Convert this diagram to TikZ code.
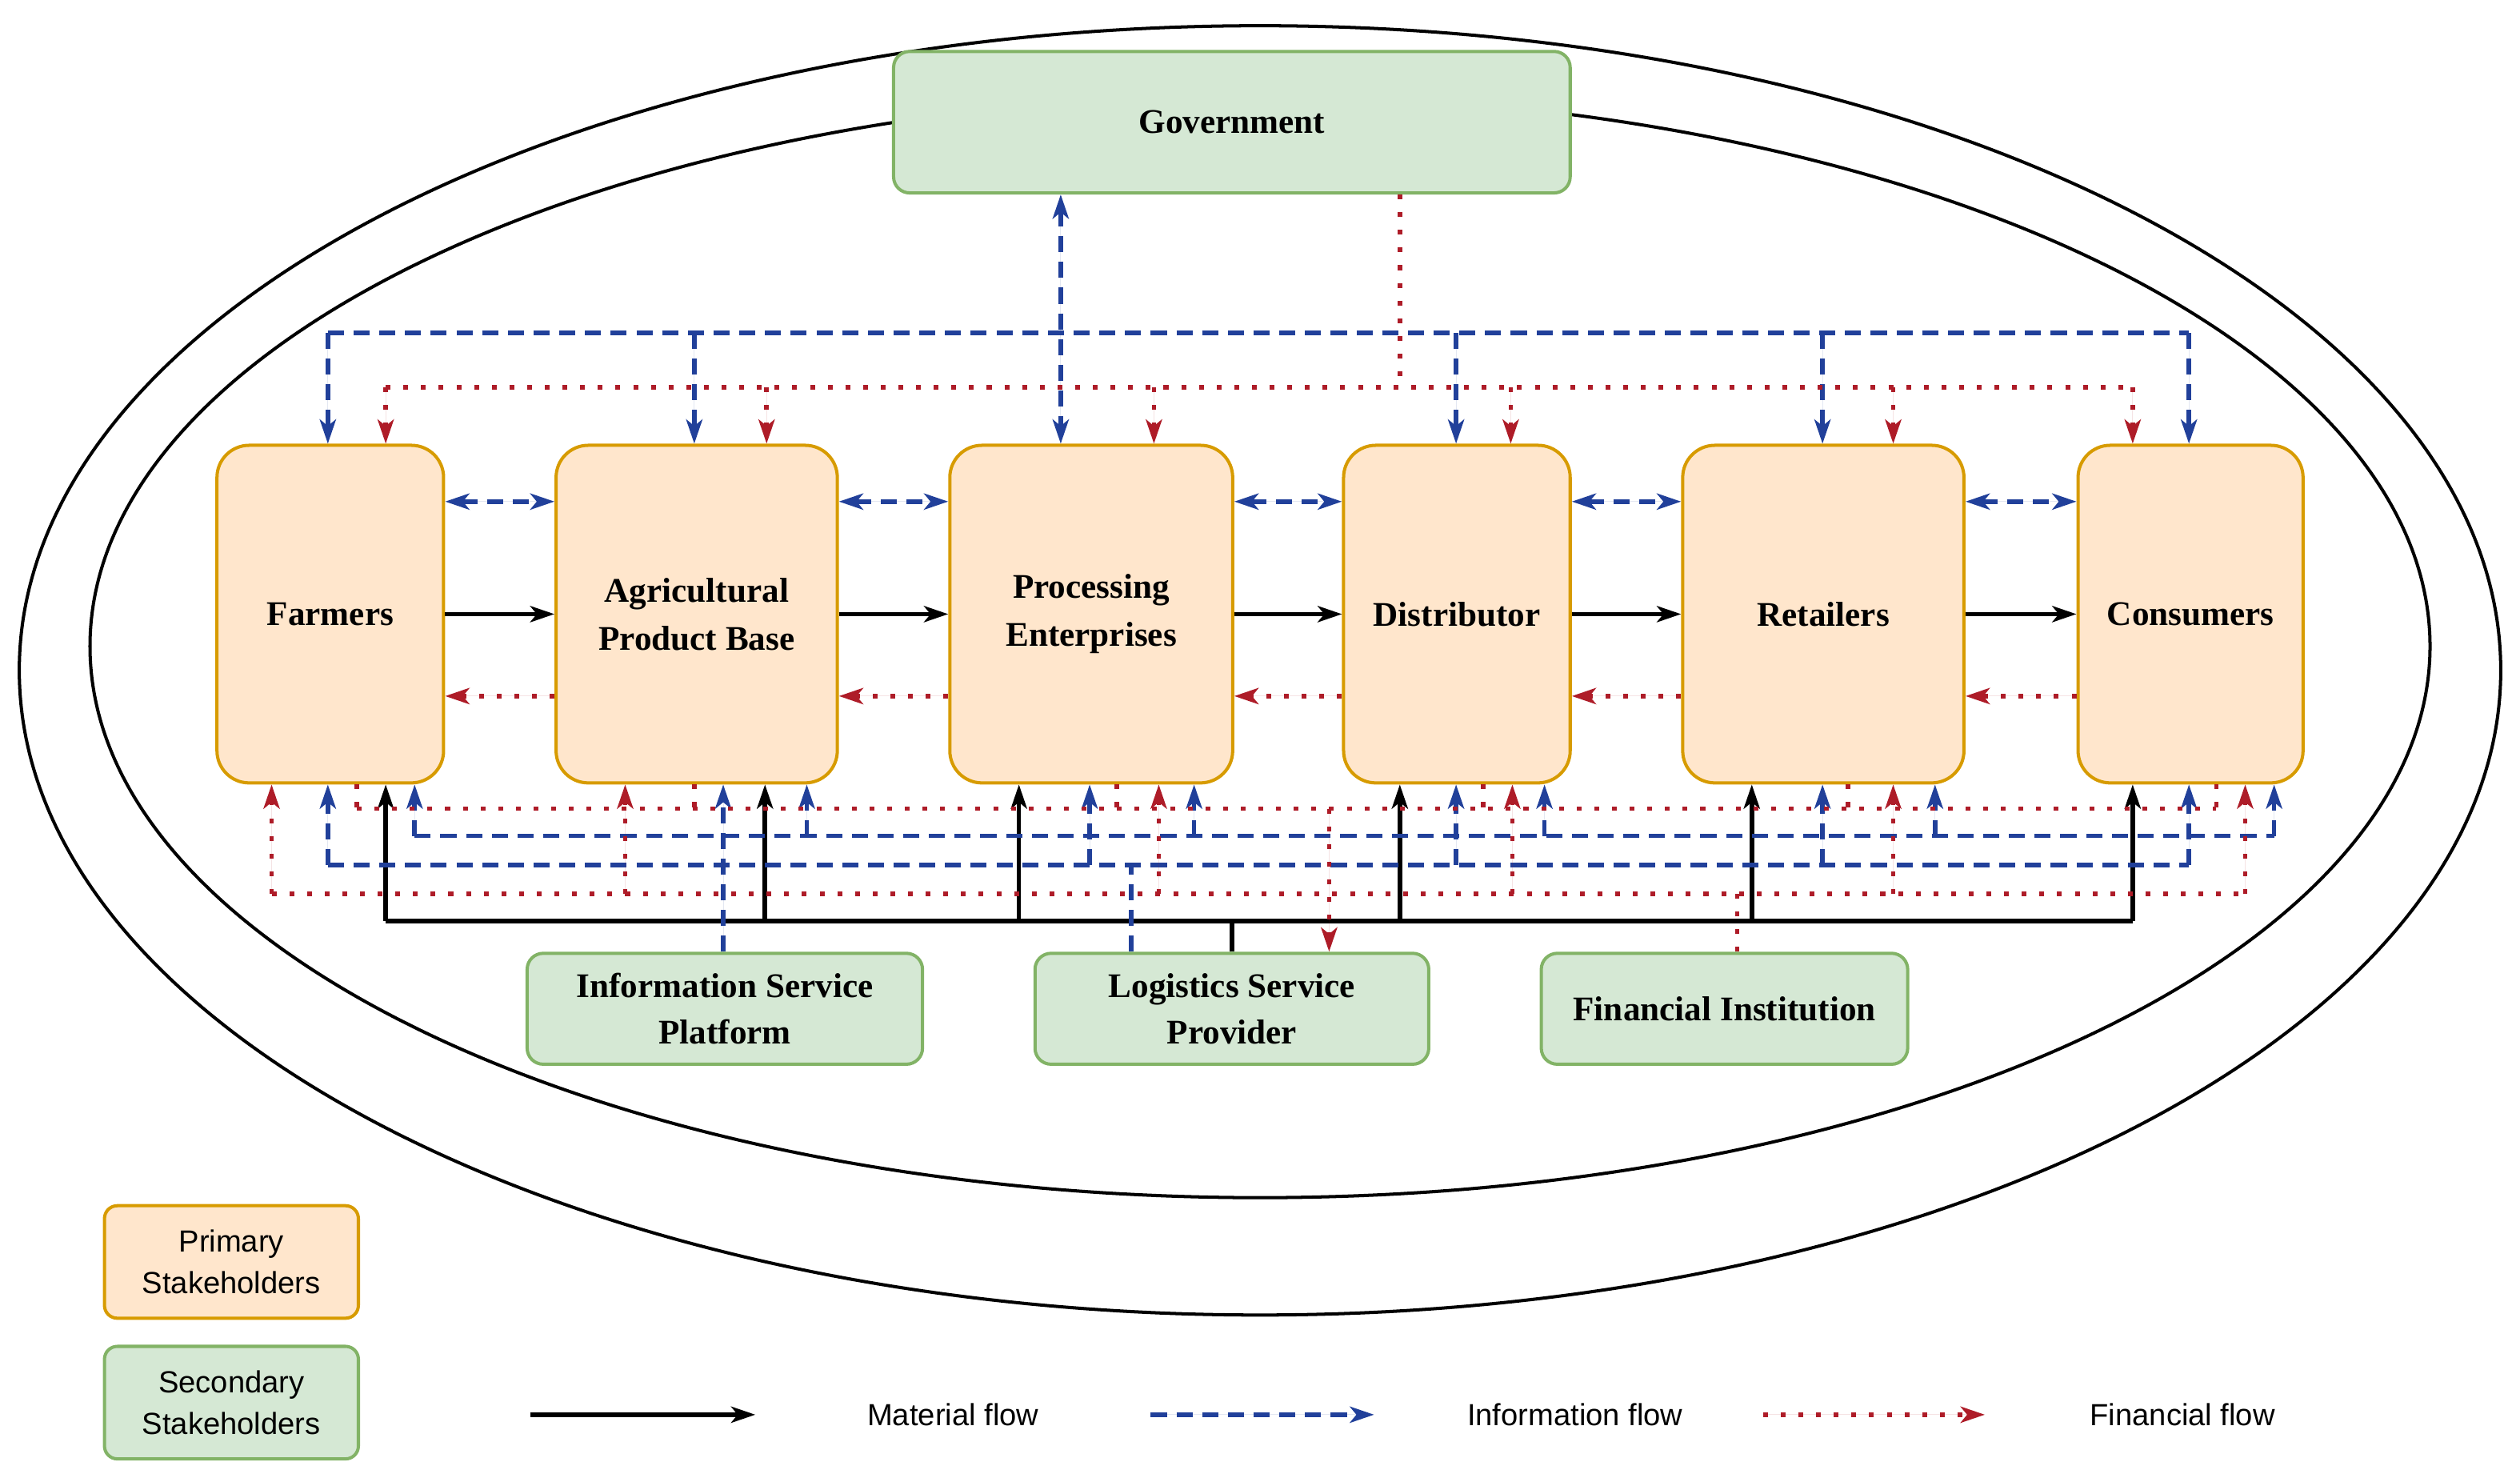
\documentclass[tikz,border=0pt]{standalone}
\usepackage{fontspec}
\setmainfont{Liberation Serif}
\newfontfamily\lsans{Liberation Sans}
\usetikzlibrary{arrows.meta,calc}
\definecolor{pfill}{HTML}{FFE6CC}\definecolor{pdraw}{HTML}{D79B00}
\definecolor{sfill}{HTML}{D5E8D4}\definecolor{sdraw}{HTML}{82B366}
\definecolor{ib}{HTML}{21409A}\definecolor{fr}{HTML}{AE1C28}
\begin{document}
\begin{tikzpicture}[x=1pt,y=-1pt,
 tip/.style={-{Stealth[length=15pt,width=10pt,inset=4pt]}},
 mat/.style={line width=2.8pt,draw=black},
 info/.style={line width=2.8pt,draw=ib,dash pattern=on 10pt off 6pt},
 fin/.style={line width=2.8pt,draw=fr,dash pattern=on 3pt off 8pt},
 ti/.style={-{Stealth[length=15pt,width=10pt,inset=4pt]},fill=ib},
 tf/.style={-{Stealth[length=15pt,width=10pt,inset=4pt]},fill=fr},
 bt/.style={{Stealth[length=15pt,width=10pt,inset=4pt]}-{Stealth[length=15pt,width=10pt,inset=4pt]}},
 prim/.style={draw=pdraw,fill=pfill,line width=2pt,rounded corners=20pt,minimum height=210pt,align=center,font=\fontsize{21.5}{30}\selectfont\bfseries},
 sec/.style={draw=sdraw,fill=sfill,line width=2pt,rounded corners=10pt,align=center,font=\fontsize{21.5}{29}\selectfont\bfseries},
 leg/.style={line width=2pt,rounded corners=8pt,minimum width=158pt,minimum height=70pt,align=center,font=\lsans\fontsize{19}{26}\selectfont},
 lt/.style={font=\lsans\fontsize{19}{22}\selectfont}]
\useasboundingbox (0,0) rectangle (1568,921.4);
\draw[line width=2pt] (784,417) ellipse [x radius=772,y radius=401];
\draw[line width=2pt] (784,402) ellipse [x radius=728,y radius=343];
\node[sec,minimum width=421pt,minimum height=88pt] (G) at (766.5,76) {Government};
\node[prim,minimum width=141pt] (F) at (205.5,382) {Farmers};
\node[prim,minimum width=175pt] (A) at (433.5,382) {Agricultural\\Product Base};
\node[prim,minimum width=176pt] (P) at (679,382) {Processing\\Enterprises};
\node[prim,minimum width=141pt] (D) at (906.5,382) {Distributor};
\node[prim,minimum width=175pt] (R) at (1134.5,382) {Retailers};
\node[prim,minimum width=140pt] (C) at (1363,382) {Consumers};
\node[sec,minimum width=246pt,minimum height=69pt] (I) at (451,627.5) {Information Service\\Platform};
\node[sec,minimum width=245pt,minimum height=69pt] (L) at (766.5,627.5) {Logistics Service\\Provider};
\node[sec,minimum width=228pt,minimum height=69pt] (Fi) at (1073,627.5) {Financial Institution};
% horizontal flows
\foreach \a/\b in {F/A,A/P,P/D,D/R,R/C}{
 \draw[mat,tip] (\a) -- (\b);
 \draw[info,bt,fill=ib] ([yshift=70pt]\a.east) -- ([yshift=70pt]\b.west);
 \draw[fin,tf] ([yshift=-51pt]\b.west) -- ([yshift=-51pt]\a.east);
}
% top levels
\coordinate (tb) at (0,207); \coordinate (tr) at (0,241);
\foreach \n/\s in {F/-1.5,A/-1.5,D/-0.5,R/-0.5,C/-1}{
 \coordinate (bt\n) at ([xshift=\s pt]\n.north);
 \draw[info,ti] (bt\n|-tb) -- (bt\n);}
\draw[info] (btF|-tb) -- (btC|-tb);
\coordinate (btP) at ([xshift=-19pt]P.north);
\draw[info,bt,fill=ib] (G.south-|btP) -- (btP);
\foreach \n/\s in {F/34.5,A/43.5,P/39,D/33.5,R/43.5,C/-36}{
 \coordinate (rt\n) at ([xshift=\s pt]\n.north);
 \draw[fin,tf] (rt\n|-tr) -- (rt\n);}
\draw[fin] (rtF|-tr) -- (rtC|-tr);
\coordinate (gR) at ([xshift=104.5pt]G.south);
\draw[fin] (gR) -- (gR|-tr);
% bottom levels
\coordinate (ru) at (0,503); \coordinate (bu) at (0,520); \coordinate (bl) at (0,538); \coordinate (rl) at (0,556); \coordinate (bus) at (0,573);
\foreach \n/\s in {F/34.5,A/42.5,P/-45,D/-35.5,R/-44.5,C/-36}{
 \coordinate (m\n) at ([xshift=\s pt]\n.south);
 \draw[mat,tip] (m\n|-bus) -- (m\n);}
\draw[mat] (mF|-bus) -- (mC|-bus);
\draw[mat] (L.north) -- (L.north|-bus);
\foreach \n/\s in {F/52.5,A/68.5,P/64,D/54.5,R/69.5,C/52}{
 \coordinate (u\n) at ([xshift=\s pt]\n.south);
 \draw[info,ti] (u\n|-bu) -- (u\n);}
\draw[info] (uF|-bu) -- (uC|-bu);
\foreach \n/\s in {F/-1.5,P/-1,D/-0.5,R/-0.5,C/-1}{
 \coordinate (l\n) at ([xshift=\s pt]\n.south);
 \draw[info,ti] (l\n|-bl) -- (l\n);}
\draw[info] (lF|-bl) -- (lC|-bl);
\coordinate (iA) at ([xshift=16.5pt]A.south);
\draw[info,ti] (I.north-|iA) -- (iA);
\coordinate (lL) at ([xshift=-62.5pt]L.north);
\draw[info] (lL) -- (lL|-bl);
\foreach \n/\s in {F/16.5,A/-1.5,P/16,D/16.5,R/15.5,C/16}{
 \coordinate (s\n) at ([xshift=\s pt]\n.south);
 \draw[fin] (s\n) -- (s\n|-ru);}
\draw[fin] (sF|-ru) -- (sC|-ru);
\coordinate (rL) at ([xshift=60.5pt]L.north);
\draw[fin,tf] (rL|-ru) -- (rL);
\foreach \n/\s in {F/-36.5,A/-44.5,P/42,D/34.5,R/43.5,C/34}{
 \coordinate (r\n) at ([xshift=\s pt]\n.south);
 \draw[fin,tf] (r\n|-rl) -- (r\n);}
\draw[fin] (rF|-rl) -- (rC|-rl);
\coordinate (fF) at ([xshift=8pt]Fi.north);
\draw[fin] (fF) -- (fF|-rl);
% legend
\node[leg,draw=pdraw,fill=pfill] (lp) at (144,785) {Primary\\Stakeholders};
\node[leg,draw=sdraw,fill=sfill] (ls) at (144,872.5) {Secondary\\Stakeholders};
\coordinate (a1) at (330,880); \coordinate (a2) at (470,880);
\coordinate (b1) at (716,880); \coordinate (b2) at (855,880);
\coordinate (c1) at (1097,880); \coordinate (c2) at (1235,880);
\draw[mat,tip] (a1) -- (a2);
\draw[info,ti] (b1) -- (b2);
\draw[fin,tf] (c1) -- (c2);
\node[lt] (t1) at (593,880) {Material flow};
\node[lt] (t2) at (980,880) {Information flow};
\node[lt] (t3) at (1358,880) {Financial flow};
\end{tikzpicture}
\end{document}
